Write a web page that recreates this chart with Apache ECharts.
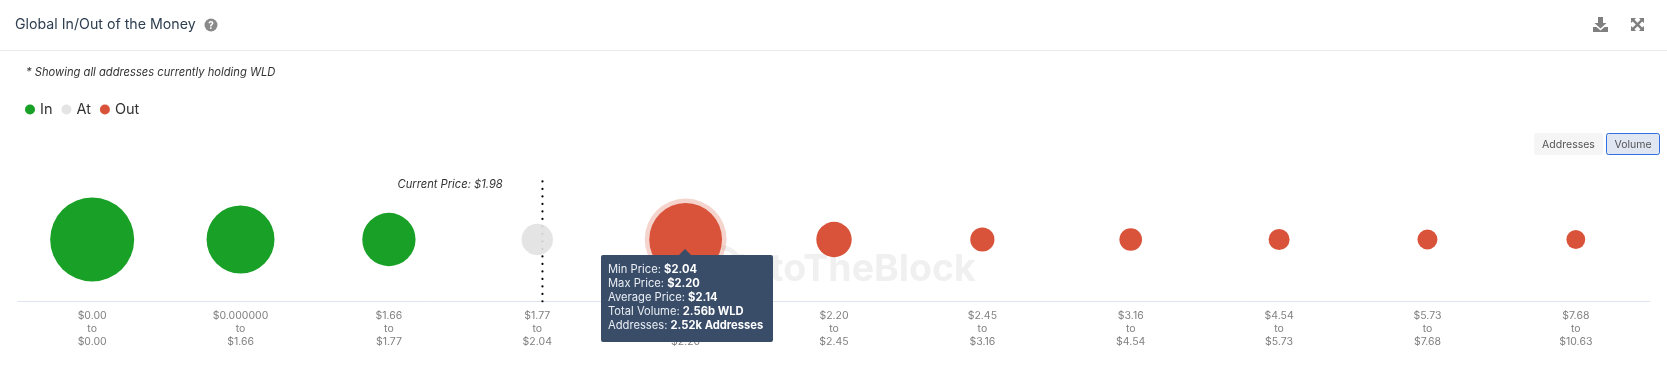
<!DOCTYPE html>
<html><head><meta charset="utf-8">
<style>html,body{margin:0;padding:0;background:#fff}#c{width:1667px;height:371px}</style>
<script src="https://cdn.jsdelivr.net/npm/echarts@6/dist/echarts.min.js"></script>
</head><body><div id="c"></div>
<script>
const categories = ['$0.00\nto\n$0.00','$0.000000\nto\n$1.66','$1.66\nto\n$1.77','$1.77\nto\n$2.04','$2.04\nto\n$2.20','$2.20\nto\n$2.45','$2.45\nto\n$3.16','$3.16\nto\n$4.54','$4.54\nto\n$5.73','$5.73\nto\n$7.68','$7.68\nto\n$10.63'];
const inVolume  = [3.41, 2.23, 1.37];
const atVolume  = [0.476];
const outVolume = [2.56, 0.605, 0.283, 0.247, 0.213, 0.193, 0.171];
const tipRows = [['Min Price','$2.04'],['Max Price','$2.20'],['Average Price','$2.14'],['Total Volume','2.56b WLD'],['Addresses','2.52k Addresses']];
const currentPriceSlot = 3.535;
const FONT = "Inter, 'Noto Sans', sans-serif";
const GREEN='#18a027', GREY='#e2e2e2', RED='#d9533a';
const sizeOf = d => 45.5*Math.sqrt(d[2]);
const pts = (arr,start) => arr.map((v,i)=>[start+i,0,v]);
const txt = (x,y,text,o={}) => ({type:'text',silent:true,x,y,style:Object.assign({text,fontFamily:FONT,fontSize:11,fill:'#333',verticalAlign:'middle'},o)});
const chart = echarts.init(document.getElementById('c'),null,{renderer:'canvas'});
chart.setOption({
  animation:false,
  backgroundColor:'#fff',
  legend:{left:20,top:97,itemWidth:10,itemHeight:10,itemGap:9,icon:'circle',
    data:['In','At','Out'],itemStyle:{borderWidth:0},
    textStyle:{fontFamily:FONT,fontSize:14.5,color:'#333'},selectedMode:false},
  grid:{left:18,right:17,top:177.5,bottom:69.5,containLabel:false},
  xAxis:[
    {type:'category',data:categories,boundaryGap:true,
     axisLine:{onZero:false,lineStyle:{color:'#dde4f0',width:1}},axisTick:{show:false},splitLine:{show:false},
     axisLabel:{interval:0,margin:8,fontFamily:FONT,fontSize:10.5,lineHeight:13,color:'#808080'}},
    {type:'value',min:0,max:11,show:false}
  ],
  yAxis:{type:'value',min:-1,max:1,show:false},
  tooltip:{trigger:'item',alwaysShowContent:true,transitionDuration:0,showDelay:0,hideDelay:0,
    position:[601,255],padding:0,borderWidth:0,backgroundColor:'transparent',
    extraCssText:'box-shadow:none;',
    formatter:()=>`<div style="position:relative;box-sizing:border-box;width:172px;height:87px;padding:7px 7px;background:#394d69;border-radius:2px;color:#fff;font-family:${FONT};font-size:11.2px;line-height:14px;white-space:nowrap">`+
      `<div style="position:absolute;left:78px;top:-6px;width:0;height:0;border-left:6px solid transparent;border-right:6px solid transparent;border-bottom:6px solid #394d69"></div>`+
      tipRows.map(r=>`<div style="color:#e9edf3">${r[0]}: <b style="color:#fff">${r[1]}</b></div>`).join('')+`</div>`},
  series:[
    {name:'In',type:'scatter',data:pts(inVolume,0),symbolSize:sizeOf,itemStyle:{color:GREEN,opacity:1},z:3},
    {name:'Current',type:'line',xAxisIndex:1,data:[[currentPriceSlot,-1],[currentPriceSlot,1]],showSymbol:false,silent:true,
      lineStyle:{color:'#000',width:2.2,type:[0.1,7.4],cap:'round'},z:2,tooltip:{show:false}},
    {name:'At',type:'scatter',data:pts(atVolume,3),symbolSize:sizeOf,itemStyle:{color:GREY,opacity:0.92},z:3},
    {name:'Halo',type:'scatter',data:pts(outVolume.slice(0,1),4),symbolSize:d=>sizeOf(d)+9,itemStyle:{color:'rgba(217,83,58,0.25)',opacity:1},z:1,silent:true,tooltip:{show:false}},
    {name:'Out',type:'scatter',data:pts(outVolume,4),symbolSize:sizeOf,itemStyle:{color:RED,opacity:1},z:3}
  ],
  graphic:[
    {type:'rect',silent:true,z:-5,shape:{x:0,y:50,width:1667,height:1},style:{fill:'#ececec'}},
    txt(15,25,'Global In/Out of the Money',{fontSize:14.2,fill:'#2d3e50'}),
    {type:'circle',silent:true,shape:{cx:211,cy:25,r:6.5},style:{fill:'#8a8a8a'}},
    txt(211,25.5,'?',{fontSize:10,fontWeight:'bold',fill:'#fff',align:'center'}),
    {type:'polygon',silent:true,shape:{points:[[1598,17],[1603,17],[1603,23],[1606.5,23],[1600.5,28.5],[1594.5,23],[1598,23]]},style:{fill:'#7f7f7f'}},
    {type:'polygon',silent:true,shape:{points:[[1593,27],[1596.5,27],[1600.5,30.5],[1604.5,27],[1608,27],[1608,32],[1593,32]]},style:{fill:'#7f7f7f'}},
    {type:'polygon',silent:true,shape:{points:[[1631,18],[1636,18],[1634.5,19.8],[1637.5,22.8],[1640.5,19.8],[1639,18],[1644,18],[1644,23],[1642.2,21.5],[1639.2,24.5],[1642.2,27.5],[1644,26],[1644,31],[1639,31],[1640.5,29.2],[1637.5,26.2],[1634.5,29.2],[1636,31],[1631,31],[1631,26],[1632.8,27.5],[1635.8,24.5],[1632.8,21.5],[1631,23]]},style:{fill:'#7f7f7f'}},
    txt(26,73,'* Showing all addresses currently holding WLD',{fontStyle:'italic',fontSize:11.2,fill:'#333'}),
    txt(397.5,185,'Current Price: $1.98',{fontStyle:'italic',fontSize:11.2,fill:'#333'}),
    {type:'rect',silent:true,shape:{x:1534,y:133,width:69,height:22,r:2},style:{fill:'#f5f5f5'}},
    txt(1568.5,144.5,'Addresses',{fontSize:10.5,fill:'#555',align:'center'}),
    {type:'rect',silent:true,shape:{x:1606.5,y:133.5,width:53,height:21,r:2},style:{fill:'#e0e6f2',stroke:'#2f6fe0',lineWidth:1}},
    txt(1633,144.5,'Volume',{fontSize:10.5,fill:'#555',align:'center'}),
    {type:'arc',silent:true,z:-3,shape:{cx:718,cy:272,r:25,startAngle:-1.4,endAngle:0.2},style:{stroke:'#f0f0f0',lineWidth:5,fill:null}},
    txt(736,270,'IntoTheBlock',{fontSize:37.5,fontWeight:'bold',fill:'#f0f0f0',z:-3})
  ]
});
chart.dispatchAction({type:'showTip',seriesName:'Out',seriesIndex:4,dataIndex:0});
</script></body></html>
